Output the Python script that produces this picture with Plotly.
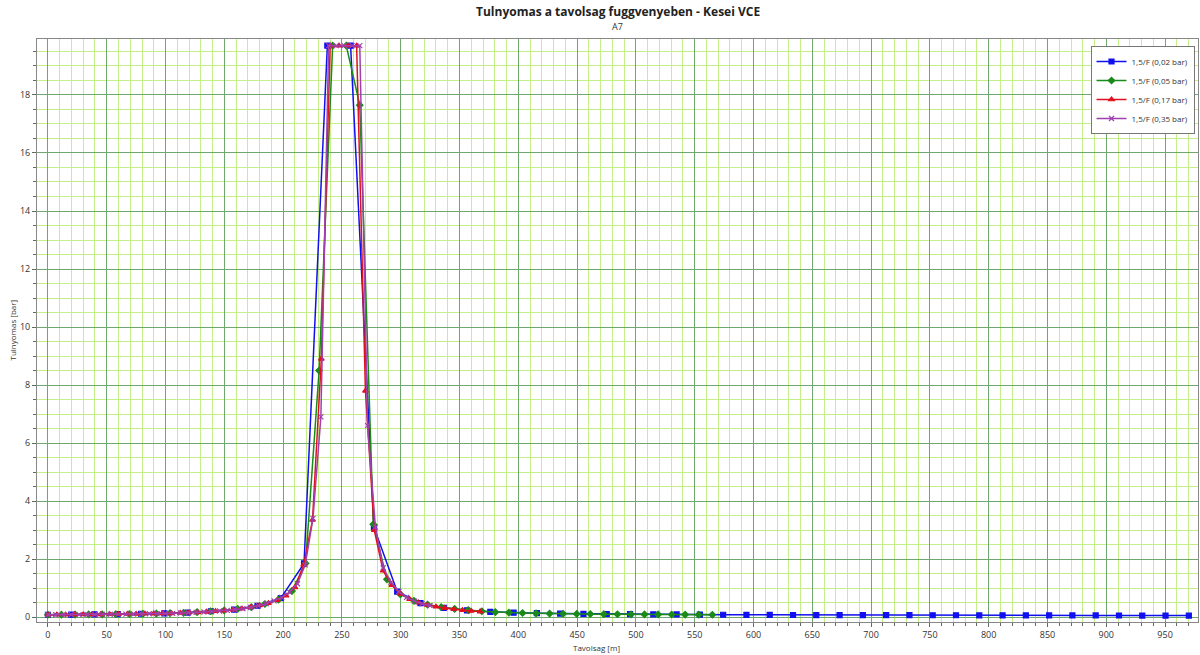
import plotly.graph_objects as go

# ---- data ----
series_names = ["1,5/F (0,02 bar)", "1,5/F (0,05 bar)", "1,5/F (0,17 bar)", "1,5/F (0,35 bar)"]

blue_x = [0, 19.8, 39.6, 59.4, 79.2, 99, 118.8, 138.6, 158.4, 178.2, 198, 217.8, 237.6, 257.4, 277.2,
          297, 316.8, 336.6, 356.4, 376.2, 396, 415.8, 435.6, 455.4, 475.2, 495, 514.8, 534.6, 554.4,
          574.2, 594, 613.8, 633.6, 653.4, 673.2, 693, 712.8, 732.6, 752.4, 772.2, 792, 811.8, 831.6,
          851.4, 871.2, 891, 910.8, 930.6, 950.4, 970.2]
blue_y = [0.08, 0.085, 0.095, 0.1, 0.115, 0.13, 0.155, 0.2, 0.26, 0.39, 0.65, 1.85, 19.7, 19.7, 3.1,
          0.88, 0.48, 0.32, 0.23, 0.18, 0.15, 0.135, 0.12, 0.11, 0.105, 0.1, 0.095, 0.09, 0.085,
          0.08, 0.077, 0.075, 0.072, 0.07, 0.068, 0.066, 0.065, 0.064, 0.063, 0.062, 0.06, 0.06, 0.058,
          0.057, 0.056, 0.055, 0.054, 0.053, 0.052, 0.05]

green_x = [0, 11.5, 23.1, 34.6, 46.1, 57.7, 69.2, 80.7, 92.2, 103.8, 115.3, 126.8, 138.4, 149.9, 161.4,
           173.0, 184.5, 196.0, 207.5, 219.1, 230.6, 242.1, 253.7, 265.2, 276.7, 288.3, 299.8, 311.3,
           322.8, 334.4, 345.9, 357.4, 369.0, 380.5, 392.0, 403.6, 415.1, 426.6, 438.1, 449.7, 461.2,
           472.7, 484.3, 495.8, 507.3, 518.9, 530.4, 541.9, 553.4, 565.0]
green_y = [0.08, 0.082, 0.085, 0.09, 0.095, 0.1, 0.105, 0.115, 0.12, 0.135, 0.145, 0.17, 0.2, 0.23, 0.28,
           0.34, 0.45, 0.6, 0.9, 1.85, 8.5, 19.7, 19.7, 17.65, 3.2, 1.3, 0.78, 0.56,
           0.43, 0.34, 0.28, 0.24, 0.2, 0.17, 0.155, 0.14, 0.13, 0.12, 0.115, 0.11, 0.105,
           0.1, 0.098, 0.095, 0.092, 0.09, 0.088, 0.085, 0.083, 0.08]

red_x = [0, 7.5, 15, 22.5, 30, 37.5, 45, 52.5, 60, 67.5, 75, 82.5, 90, 97.5, 105, 112.5, 120, 127.5,
         135, 142.5, 150, 157.5, 165, 172.5, 180, 187.5, 195, 202.5, 210, 217.5, 225, 232.5, 240, 247.5,
         255, 262.5, 270, 277.5, 285, 292.5, 300, 307.5, 315, 322.5, 330, 337.5, 345, 352.5, 360, 367.5]
red_y = [0.08, 0.08, 0.082, 0.085, 0.088, 0.09, 0.095, 0.098, 0.1, 0.105, 0.11, 0.115, 0.12, 0.125, 0.13,
         0.14, 0.15, 0.165, 0.18, 0.2, 0.22, 0.25, 0.29, 0.34, 0.4, 0.48, 0.58, 0.74, 1.02, 1.8, 3.35,
         8.9, 19.7, 19.7, 19.7, 19.7, 7.8, 3.0, 1.6, 1.1, 0.8, 0.62, 0.5, 0.42, 0.36, 0.31, 0.27, 0.24,
         0.21, 0.19]

purple_x = [0, 6.6, 13.3, 19.9, 26.5, 33.2, 39.8, 46.4, 53.0, 59.7, 66.3, 72.9, 79.6, 86.2, 92.8, 99.5,
            106.1, 112.7, 119.3, 126.0, 132.6, 139.2, 145.9, 152.5, 159.1, 165.8, 172.4, 179.0, 185.6,
            192.3, 198.9, 205.5, 212.2, 218.8, 225.4, 232.1, 238.7, 245.3, 251.9, 258.6, 265.2, 271.8,
            278.5, 285.1, 291.7, 298.4, 305.0, 311.6, 318.2, 324.9]
purple_y = [0.08, 0.08, 0.082, 0.084, 0.086, 0.088, 0.09, 0.094, 0.097, 0.1, 0.103, 0.107, 0.11, 0.115,
            0.12, 0.125, 0.13, 0.14, 0.15, 0.16, 0.175, 0.19, 0.21, 0.23, 0.26, 0.29, 0.33, 0.39, 0.46,
            0.56, 0.68, 0.86, 1.15, 1.8, 3.4, 6.9, 19.7, 19.7, 19.7, 19.7, 19.7, 6.6, 3.1, 1.7, 1.2,
            0.88, 0.68, 0.55, 0.46, 0.4]

x_ticks = list(range(0, 1000, 50))
y_ticks = list(range(0, 20, 2))

# ---- styles ----
colors = ["#1010ee", "#1a8a1a", "#e01020", "#a040b0"]
symbols = ["square", "diamond", "triangle-up", "x-thin"]

fig = go.Figure()
for name, xs, ys, c, s in zip(series_names,
                              [blue_x, green_x, red_x, purple_x],
                              [blue_y, green_y, red_y, purple_y],
                              colors, symbols):
    fig.add_trace(go.Scatter(
        x=xs, y=ys, name=name, mode="lines+markers",
        line=dict(color=c, width=1.5),
        marker=dict(symbol=s, size=5, color=c, line=dict(color=c, width=1.2)),
    ))

font_family = "Open Sans, DejaVu Sans, sans-serif"
major_grid = "#6ea86e"
minor_grid = "#c4ef88"

fig.update_layout(
    width=1200, height=655,
    margin=dict(l=37, r=2, t=39, b=33),
    paper_bgcolor="white", plot_bgcolor="white",
    font=dict(family=font_family, size=9, color="#333333"),
    showlegend=True,
    legend=dict(
        x=0.997, xanchor="right", y=0.988, yanchor="top",
        bgcolor="white", bordercolor="#777777", borderwidth=1,
        font=dict(size=8, color="#333333"),
        tracegroupgap=0, itemsizing="trace", itemwidth=30,
    ),
    xaxis=dict(
        range=[-9.3, 978], tickvals=x_ticks, ticktext=[str(v) for v in x_ticks],
        automargin=False,
        showgrid=True, gridcolor=major_grid, gridwidth=1,
        zeroline=False, showline=True, linecolor="#888888", linewidth=1, mirror=True,
        ticks="outside", ticklen=4, tickcolor="#666666",
        minor=dict(dtick=10, showgrid=True, gridcolor=minor_grid, gridwidth=1,
                   ticks="outside", ticklen=3, tickcolor="#666666"),
        tickfont=dict(size=9, color="#333333"),
    ),
    yaxis=dict(
        range=[-0.17, 19.93], tickvals=y_ticks, ticktext=[str(v) for v in y_ticks],
        automargin=False,
        showgrid=True, gridcolor=major_grid, gridwidth=1,
        zeroline=False, showline=True, linecolor="#888888", linewidth=1, mirror=True,
        ticks="outside", ticklen=4, tickcolor="#666666",
        minor=dict(dtick=0.5, showgrid=True, gridcolor=minor_grid, gridwidth=1,
                   ticks="outside", ticklen=3, tickcolor="#666666"),
        tickfont=dict(size=9, color="#333333"),
    ),
    annotations=[
        dict(text="<b>Tulnyomas a tavolsag fuggvenyeben - Kesei VCE</b>", xref="paper", yref="paper",
             x=0.5, y=1.0, xanchor="center", yanchor="bottom", yshift=17, showarrow=False,
             font=dict(size=12, color="#222222")),
        dict(text="A7", xref="paper", yref="paper", x=0.5, y=1.0, xanchor="center", yanchor="bottom",
             yshift=4, showarrow=False, font=dict(size=9, color="#333333")),
        dict(text="Tavolsag [m]", xref="paper", yref="paper", x=0.482, y=0.0, xanchor="center",
             yanchor="top", yshift=-18, showarrow=False, font=dict(size=8, color="#333333")),
        dict(text="Tulnyomas [bar]", xref="paper", yref="paper", x=0.0, y=0.5, xanchor="center",
             yanchor="middle", xshift=-25, textangle=-90, showarrow=False,
             font=dict(size=8, color="#333333")),
    ],
)

fig.write_html(
    "out.html",
    config={"displayModeBar": False},
    post_script="document.body.style.margin='0';document.body.style.overflow='hidden';"
                "window.dispatchEvent(new Event('resize'));",
)
